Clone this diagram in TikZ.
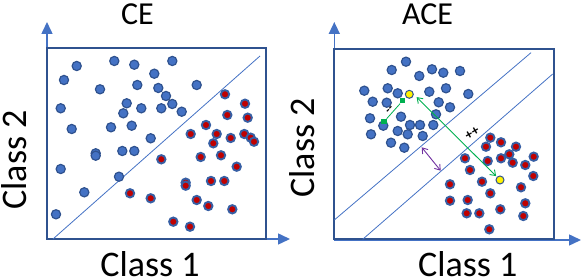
\documentclass[tikz,border=0pt]{standalone}
\usepackage{fontspec}
\setmainfont{Carlito}
\usetikzlibrary{arrows.meta}
\definecolor{dotblue}{RGB}{68,114,196}
\definecolor{edgeblue}{RGB}{47,82,143}
\definecolor{dotred}{RGB}{192,0,0}
\definecolor{markgreen}{RGB}{0,176,80}
\definecolor{markpurple}{RGB}{112,48,160}
\tikzset{
    bluedot/.style={fill=dotblue, draw=edgeblue, line width=1.2pt},
    reddot/.style={fill=dotred, draw=edgeblue!60!dotblue, line width=1.9pt},
    yellowdot/.style={circle, fill=yellow, draw=edgeblue, line width=1pt, minimum size=8pt, inner sep=0pt},
    greensq/.style={rectangle, fill=markgreen, minimum size=5.5pt, inner sep=0pt},
    axisline/.style={dotblue, line width=1.5pt, -{Triangle[length=12pt,width=11pt]}},
    panelbox/.style={edgeblue, line width=2pt},
    splitline/.style={dotblue, line width=0.8pt},
    barbs/.style={line width=0.9pt, {Straight Barb[length=5pt,width=7pt]}-{Straight Barb[length=5pt,width=7pt]}},
    classlab/.style={font=\fontsize{36}{40}\selectfont, inner sep=0pt, anchor=base},
    titlelab/.style={font=\fontsize{32}{36}\selectfont, inner sep=0pt, anchor=base}
}
\begin{document}
\begin{tikzpicture}[x=1pt,y=-1pt]
        \useasboundingbox (0,0) rectangle (582,280);
        % axis
        \draw [axisline] (47,239) -- (47,22);\draw [axisline] (47,239) -- (290,239);
        \draw [axisline] (334.3,240) -- (334.3,22);\draw [axisline] (334.3,240) -- (581,240);
        % box
        \draw [panelbox] (47,48.5) rectangle (265.5,239);
        \draw [panelbox] (334.3,49) rectangle (554.3,239.3);
        % split line
        \draw [splitline] (53,239) -- (260,56);
        \draw [splitline] (334.3,220) -- (531,52.7);
        \draw [splitline] (362.7,239.3) -- (552.7,74);
        % lecter
        \node [titlelab] (ceTitle) at (137.5,25) {CE};
        \node [titlelab] (aceTitle) at (427.5,25) {ACE};
        \node [classlab] (ceX) at (150,276.5) {Class 1};
        \node [classlab] (aceX) at (467.7,276.5) {Class 1};
        \node [classlab, rotate=90] (ceY) at (26.5,160) {Class 2};
        \node [classlab, rotate=90] (aceY) at (314,148) {Class 2};
        % blue point CE
        \filldraw[bluedot] (76.7,66) circle (4.6pt);\filldraw[bluedot] (114.3,61) circle (4.6pt);\filldraw[bluedot] (134.3,64.7) circle (4.6pt);
        \filldraw[bluedot] (172.3,61) circle (4.6pt);\filldraw[bluedot] (64,80) circle (4.6pt);\filldraw[bluedot] (154.3,73.7) circle (4.6pt);
        \filldraw[bluedot] (100,89.3) circle (4.6pt);\filldraw[bluedot] (137.3,85) circle (4.6pt);\filldraw[bluedot] (158.3,88) circle (4.6pt);
        \filldraw[bluedot] (196.7,85) circle (4.6pt);\filldraw[bluedot] (166,96) circle (4.6pt);\filldraw[bluedot] (60.7,108.3) circle (4.6pt);
        \filldraw[bluedot] (126.7,103.3) circle (4.6pt);\filldraw[bluedot] (123.3,113.3) circle (4.6pt);\filldraw[bluedot] (141.3,108.3) circle (4.6pt);
        \filldraw[bluedot] (161.3,108.3) circle (4.6pt);\filldraw[bluedot] (172.3,104) circle (4.6pt);\filldraw[bluedot] (181.7,111.7) circle (4.6pt);
        \filldraw[bluedot] (71.7,129) circle (4.6pt);\filldraw[bluedot] (111,127.3) circle (4.6pt);\filldraw[bluedot] (131.7,125.7) circle (4.6pt);
        \filldraw[bluedot] (150.7,138.3) circle (4.6pt);\filldraw[bluedot] (95.7,153.3) circle (4.6pt);\filldraw[bluedot] (95.7,155.7) circle (4.6pt);
        \filldraw[bluedot] (122.3,151) circle (4.6pt);\filldraw[bluedot] (134.3,151) circle (4.6pt);\filldraw[bluedot] (60.7,169) circle (4.6pt);
        \filldraw[bluedot] (119,176.7) circle (4.6pt);\filldraw[bluedot] (84.3,192.3) circle (4.6pt);\filldraw[bluedot] (56,214.3) circle (4.6pt);
        % red point CE
        \filldraw[reddot] (225,94.3) circle (4.2pt);\filldraw[reddot] (245,103.7) circle (4.2pt);\filldraw[reddot] (227.3,115) circle (4.2pt);
        \filldraw[reddot] (247.7,117.7) circle (4.2pt);\filldraw[reddot] (206,125) circle (4.2pt);\filldraw[reddot] (190.7,134) circle (4.2pt);
        \filldraw[reddot] (216.7,134) circle (4.2pt);\filldraw[reddot] (230.7,138) circle (4.2pt);\filldraw[reddot] (244.3,134) circle (4.2pt);
        \filldraw[reddot] (250.7,137.7) circle (4.2pt);\filldraw[reddot] (254,141.7) circle (4.2pt);\filldraw[reddot] (213.3,143.3) circle (4.2pt);
        \filldraw[reddot] (161.3,159.3) circle (4.2pt);\filldraw[reddot] (200.7,157) circle (4.2pt);\filldraw[reddot] (221,155.3) circle (4.2pt);
        \filldraw[reddot] (236.7,166.7) circle (4.2pt);\filldraw[reddot] (185.7,182.7) circle (4.2pt);\filldraw[reddot] (185.7,185.7) circle (4.2pt);
        \filldraw[reddot] (211,181) circle (4.2pt);\filldraw[reddot] (224.3,181) circle (4.2pt);\filldraw[reddot] (130,193.3) circle (4.2pt);
        \filldraw[reddot] (150.7,198.3) circle (4.2pt);\filldraw[reddot] (196.7,200) circle (4.2pt);\filldraw[reddot] (208.3,206) circle (4.2pt);
        \filldraw[reddot] (232.3,209.3) circle (4.2pt);\filldraw[reddot] (173.3,221.7) circle (4.2pt);\filldraw[reddot] (190,226.7) circle (4.2pt);
        % blue point ACE
        \filldraw[bluedot] (406,61.7) circle (4.6pt);\filldraw[bluedot] (391.7,70) circle (4.6pt);\filldraw[bluedot] (419.3,76) circle (4.6pt);
        \filldraw[bluedot] (432,69.3) circle (4.6pt);\filldraw[bluedot] (443.3,72.7) circle (4.6pt);\filldraw[bluedot] (460,71) circle (4.6pt);
        \filldraw[bluedot] (364.3,90.7) circle (4.6pt);\filldraw[bluedot] (387.7,88.3) circle (4.6pt);\filldraw[bluedot] (397.7,93.3) circle (4.6pt);
        \filldraw[bluedot] (429.3,91.7) circle (4.6pt);\filldraw[bluedot] (446,88.3) circle (4.6pt);\filldraw[bluedot] (468.3,94) circle (4.6pt);
        \filldraw[bluedot] (372.7,101.7) circle (4.6pt);\filldraw[bluedot] (386.7,102.7) circle (4.6pt);\filldraw[bluedot] (438.7,102.3) circle (4.6pt);
        \filldraw[bluedot] (450,107.3) circle (4.6pt);\filldraw[bluedot] (370,118.3) circle (4.6pt);\filldraw[bluedot] (401,116.7) circle (4.6pt);
        \filldraw[bluedot] (436,114.3) circle (4.6pt);\filldraw[bluedot] (383.3,125.7) circle (4.6pt);\filldraw[bluedot] (410,125) circle (4.6pt);
        \filldraw[bluedot] (420,125) circle (4.6pt);\filldraw[bluedot] (433.3,125) circle (4.6pt);\filldraw[bluedot] (371,134.3) circle (4.6pt);
        \filldraw[bluedot] (397.7,131) circle (4.6pt);\filldraw[bluedot] (407.7,134.3) circle (4.6pt);\filldraw[bluedot] (422.7,136) circle (4.6pt);
        \filldraw[bluedot] (391,142.7) circle (4.6pt);\filldraw[bluedot] (404.3,147.7) circle (4.6pt);
        % red point ACE
        \filldraw[reddot] (490.3,137.7) circle (4.2pt);\filldraw[reddot] (501,142.3) circle (4.2pt);\filldraw[reddot] (486,146.7) circle (4.2pt);
        \filldraw[reddot] (516,146.7) circle (4.2pt);\filldraw[reddot] (509.3,154.3) circle (4.2pt);\filldraw[reddot] (501,158.3) circle (4.2pt);
        \filldraw[reddot] (512.7,162.7) circle (4.2pt);\filldraw[reddot] (533.7,156.7) circle (4.2pt);\filldraw[reddot] (465,158.3) circle (4.2pt);
        \filldraw[reddot] (487.7,161) circle (4.2pt);\filldraw[reddot] (525.3,165) circle (4.2pt);\filldraw[reddot] (470,170) circle (4.2pt);
        \filldraw[reddot] (533.3,176) circle (4.2pt);\filldraw[reddot] (482,181.7) circle (4.2pt);\filldraw[reddot] (450,184.3) circle (4.2pt);
        \filldraw[reddot] (521,187.3) circle (4.2pt);\filldraw[reddot] (490.3,193.3) circle (4.2pt);\filldraw[reddot] (450,200.7) circle (4.2pt);
        \filldraw[reddot] (467.7,200) circle (4.2pt);\filldraw[reddot] (525.3,203.3) circle (4.2pt);\filldraw[reddot] (500.3,209.3) circle (4.2pt);
        \filldraw[reddot] (466.7,213.3) circle (4.2pt);\filldraw[reddot] (479.3,213.3) circle (4.2pt);\filldraw[reddot] (523.3,216) circle (4.2pt);
        \filldraw[reddot] (489.3,229.3) circle (4.2pt);
        % yellow point and green square
        \node [yellowdot] (yBlue) at (409.3,94.3) {};
        \node [yellowdot] (yRed) at (500,180) {};
        \node [greensq] (sqTop) at (402.7,100.7) {};
        \node [greensq] (sqLow) at (384,121.7) {};
        % distance arrows
        \draw [markgreen, line width=0.8pt] (sqLow) -- (sqTop);
        \node [rotate=45, font=\fontsize{12}{12}\selectfont\bfseries, inner sep=0pt] (minus) at (390.2,110.2) {-{}-};
        \draw [barbs, markgreen, shorten <=4pt, shorten >=1pt] (yBlue.east) -- (yRed.north west);
        \node [rotate=30, font=\fontsize{14}{14}\selectfont\bfseries, inner sep=0pt] (plus) at (472.3,133.3) {++};
        \coordinate (gapTop) at (421.7,147.3);
        \coordinate (gapLow) at (440.7,170.7);
        \draw [barbs, markpurple] (gapTop) -- (gapLow);
    \end{tikzpicture}
\end{document}
